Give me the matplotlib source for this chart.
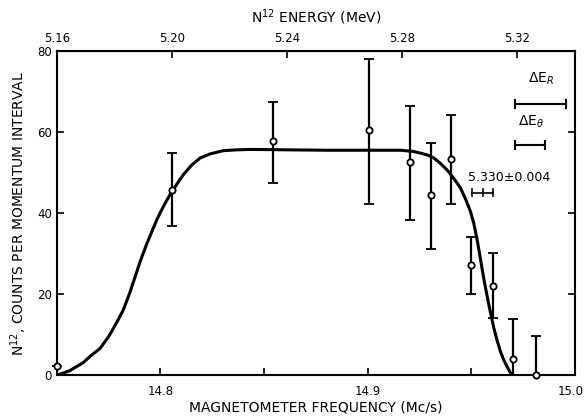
import matplotlib
matplotlib.use("Agg")
import matplotlib.pyplot as plt
import matplotlib.transforms as mtransforms
from matplotlib.ticker import FixedLocator

# Measured data points
freq = [14.7500, 14.8056, 14.8544, 14.9005, 14.9205, 14.9304, 14.9404, 14.9500, 14.9604, 14.9702, 14.9813]
counts = [2.3, 45.6, 57.7, 60.6, 52.5, 44.5, 53.4, 27.2, 22.1, 3.9, 0.0]
err_low = [0.0, 8.7, 10.3, 18.3, 14.2, 13.3, 11.1, 7.1, 8.1, 3.9, 0.0]
err_high = [0.0, 9.3, 9.8, 17.4, 14.0, 12.7, 10.8, 6.9, 8.0, 10.0, 9.6]

# Fitted curve
curve_freq = [14.7500, 14.7560, 14.7628, 14.7660, 14.7709, 14.7750, 14.7789, 14.7820,
              14.7852, 14.7880, 14.7902, 14.7934, 14.7960, 14.7983, 14.8015, 14.8047, 14.8080,
              14.8111, 14.8150, 14.8192, 14.8240, 14.8304, 14.8370, 14.8433, 14.8800,
              14.9158, 14.9220, 14.9254, 14.9290, 14.9319, 14.9350, 14.9384, 14.9415,
              14.9448, 14.9472, 14.9496, 14.9512, 14.9528, 14.9544, 14.9560, 14.9585,
              14.9609, 14.9625, 14.9641, 14.9657, 14.9673, 14.9686, 14.9698]
curve_counts = [0.0, 1.0, 3.1, 4.6, 6.6, 9.5, 13.0, 16.0,
                20.3, 24.6, 28.0, 32.4, 35.6, 38.4, 41.7, 44.6, 47.2,
                49.5, 51.8, 53.6, 54.6, 55.4, 55.6, 55.7, 55.5,
                55.5, 55.2, 54.8, 54.3, 53.6, 52.3, 50.6, 48.6,
                46.2, 43.5, 40.4, 37.5, 33.5, 28.8, 23.9, 17.3,
                11.6, 8.5, 5.8, 3.7, 2.1, 0.8, 0.0]

# Resolution bars (frequency extent, height)
res_labels = [r"$\Delta$E$_R$", r"$\Delta$E$_\theta$"]
res_left = [14.9709, 14.9709]
res_right = [14.9958, 14.9858]
res_y = [67.0, 56.8]
res_label_y = [71.0, 60.5]

peak_label = "5.330\u00b10.004"
peak_center = 14.9555
peak_half = 0.0051
peak_y = 45.0

x_major = [14.8, 14.9, 15.0]
x_major_labels = ["14.8", "14.9", "15.0"]
x_minor = [14.85, 14.95]
y_ticks = [0, 20, 40, 60, 80]
top_ticks = [5.16, 5.20, 5.24, 5.28, 5.32]
top_labels = ["5.16", "5.20", "5.24", "5.28", "5.32"]

plt.rcParams['font.family'] = ['DejaVu Sans']
fig = plt.figure(figsize=(5.86, 4.2), dpi=100)
ax = fig.add_axes([0.097, 0.107, 0.884, 0.7716])

ax.plot(curve_freq, curve_counts, color='black', lw=2.2, solid_capstyle='round',
        solid_joinstyle='round', zorder=2)
ax.errorbar(freq, counts, yerr=[err_low, err_high], fmt='o', ms=4.5, mfc='white',
            mec='black', mew=1.3, ecolor='black', elinewidth=1.6, capsize=3.5,
            capthick=1.6, zorder=3, clip_on=False)

for lab, l, r, y, ly in zip(res_labels, res_left, res_right, res_y, res_label_y):
    ax.plot([l, r], [y, y], color='black', lw=1.5)
    ax.plot([l, l], [y - 1.0, y + 1.0], color='black', lw=1.5)
    ax.plot([r, r], [y - 1.0, y + 1.0], color='black', lw=1.5)
    ax.text((l + r) / 2 + 0.0005, ly, lab, ha='center', va='bottom', fontsize=10)

ax.plot([peak_center - peak_half, peak_center + peak_half], [peak_y, peak_y], color='black', lw=1.2)
for xx in [peak_center - peak_half, peak_center, peak_center + peak_half]:
    ax.plot([xx, xx], [peak_y - 0.9, peak_y + 0.9], color='black', lw=1.2)
ax.text(14.9485, peak_y + 2.2, peak_label, ha='left', va='bottom', fontsize=9)

ax.set_xlim(14.75, 15.0)
ax.set_ylim(0, 80)
ax.xaxis.set_major_locator(FixedLocator(x_major))
ax.set_xticklabels(x_major_labels)
ax.xaxis.set_minor_locator(FixedLocator(x_minor))
ax.set_yticks(y_ticks)
ax.tick_params(axis='both', which='both', direction='in', length=5, width=1.2,
               labelsize=8.5, right=True)
ax.tick_params(axis='x', which='major', pad=7)
for s in ax.spines.values():
    s.set_linewidth(1.5)

# keep the last bottom label inside the canvas
last = ax.get_xticklabels()[-1]
last.set_transform(last.get_transform() +
                   mtransforms.ScaledTranslation(-3 / 72, 0, fig.dpi_scale_trans))

sec = ax.secondary_xaxis('top', functions=(lambda f: 5.16 + (f - 14.75) * 0.72,
                                          lambda e: 14.75 + (e - 5.16) / 0.72))
sec.set_xticks(top_ticks)
sec.set_xticklabels(top_labels)
sec.tick_params(direction='in', length=5, width=1.2, labelsize=8.5, pad=4)
sec.set_xlabel(r"N$^{12}$ ENERGY (MeV)", fontsize=10, labelpad=7)

ax.set_xlabel("MAGNETOMETER FREQUENCY (Mc/s)", fontsize=10, labelpad=2)
ax.set_ylabel(r"N$^{12}$, COUNTS PER MOMENTUM INTERVAL", fontsize=10, labelpad=6)

fig.savefig("out.png", dpi=100)
